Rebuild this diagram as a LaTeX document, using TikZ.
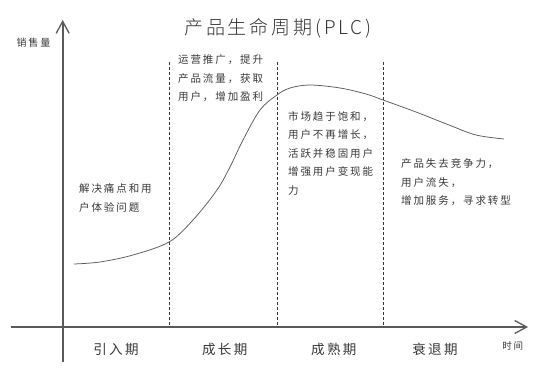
\documentclass[tikz,border=0pt]{standalone}
\usepackage{fontspec}
\newfontfamily\cjk[LetterSpace=18]{Noto Sans CJK SC}
\newfontfamily\cjkwide[LetterSpace=15]{Noto Sans CJK SC Light}
\usetikzlibrary{arrows.meta}
\definecolor{inkgray}{HTML}{383838}
\definecolor{axisgray}{HTML}{5A5A5A}

\begin{document}
\begin{tikzpicture}[x=1pt,y=-1pt]
	\tikzstyle{note}=[anchor=north west,inner sep=0pt,align=left,text=inkgray,font=\cjk\fontsize{10.5}{18.6}\selectfont]
	\tikzstyle{stage}=[inner sep=0pt,text=inkgray,font=\cjk\fontsize{13.5}{15}\selectfont]
	\tikzstyle{axis}=[line width=1.6pt,axisgray,-{Straight Barb[length=12pt,width=13pt,line width=1.3pt]}]
	\tikzstyle{divider}=[line width=0.8pt,inkgray,dash pattern=on 3pt off 2pt]

	\useasboundingbox (0,0) rectangle (548,374);

	% axes
	\coordinate (yb) at (62.7,362);
	\coordinate (yt) at (62.7,20);
	\coordinate (xl) at (10.7,327);
	\coordinate (xr) at (528,327);
	\draw[axis] (yb) -- (yt);
	\draw[axis] (xl) -- (xr);

	% stage borders
	\foreach \n/\x in {d1/169.3,d2/277,d3/383.3}{
		\coordinate (\n top) at (\x,62);
		\coordinate (\n bot) at (\x,327);
		\draw[divider] (\n top) -- (\n bot);
	}

	% sales curve
	\draw[line width=0.75pt,axisgray] plot[smooth,tension=0.55] coordinates
		{(74,264) (100,262) (133,255) (169,242) (193,220) (217,190) (230,167) (243,140) (260,110) (277,95) (290,88) (310,85) (340,88) (366,94) (383,100) (416,112) (449,125) (476,135) (504,139)};

	\node[text=black!80,font=\cjkwide\fontsize{19}{21}\selectfont] (title) at (278,28.3) {产品生命周期(PLC)};
	\node[text=inkgray,font=\cjk\fontsize{10}{11}\selectfont] (ylab) at (33.5,42.7) {销售量};
	\node[text=inkgray,font=\cjk\fontsize{9.5}{10}\selectfont] (xlab) at (512.7,346.3) {时间};

	\node[stage] (s1) at (116,349) {引入期};
	\node[stage] (s2) at (224.7,349) {成长期};
	\node[stage] (s3) at (333.8,349) {成熟期};
	\node[stage] (s4) at (435,349) {衰退期};

	\node[note] (n1) at (79,183.7) {解决痛点和用\\户体验问题};
	\node[note] (n2) at (178,54.4) {运营推广，提升\\产品流量，获取\\用户，增加盈利};
	\node[note] (n3) at (288,111) {市场趋于饱和，\\用户不再增长，\\活跃并稳固用户\\增强用户变现能\\力};
	\node[note] (n4) at (401,158.7) {产品失去竞争力，\\用户流失，\\增加服务，寻求转型};
\end{tikzpicture}
\end{document}
